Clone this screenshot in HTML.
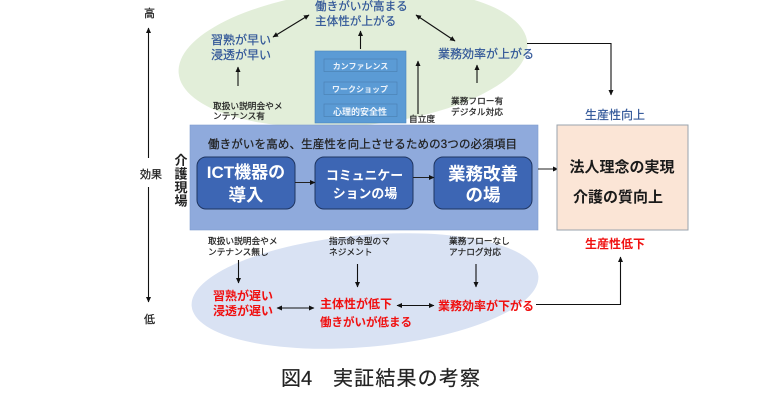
<!DOCTYPE html>
<html><head><meta charset="utf-8"><style>
html,body{margin:0;padding:0;background:#fff;width:760px;height:403px;overflow:hidden}
svg{display:block;filter:blur(0.35px)}
text{font-family:"Liberation Sans","Noto Sans CJK JP",sans-serif}
.b{fill:#2f5597;stroke:#2f5597;stroke-width:.2px;font-size:12px}
.r{fill:#f01010;font-size:12px;font-weight:700}
.s{fill:#222;stroke:#222;stroke-width:.2px;font-size:8.700px}
.k{fill:#222;stroke:#222;stroke-width:.25px;font-size:11px}
.w{fill:#fff;font-weight:700;text-anchor:middle}
.m{fill:#eef4fb;font-weight:700;text-anchor:middle}
</style></head><body>
<svg width="760" height="403" viewBox="0 0 760 403" xmlns="http://www.w3.org/2000/svg">
<defs>
<marker id="a" markerWidth="6" markerHeight="6" refX="5" refY="3" orient="auto-start-reverse" markerUnits="userSpaceOnUse"><path d="M0 0.5L5.5 3L0 5.5z" fill="#111"/></marker>
</defs>
<ellipse cx="353" cy="58" rx="175" ry="68" transform="rotate(-5 353 58)" fill="#e2eed9"/>
<ellipse cx="365" cy="291" rx="174" ry="56" transform="rotate(-5 365 291)" fill="#d9e2f3"/>

<!-- effect axis -->
<g stroke="#111" stroke-width="1.100" fill="none">
<path d="M148.500 158V28" marker-end="url(#a)"/>
<path d="M148.500 187V302" marker-end="url(#a)"/>
</g>
<text x="144" y="17" class="k">高</text>
<text x="140" y="178" class="k">効果</text>
<text x="144" y="323" class="k">低</text>

<!-- top group -->
<rect x="315" y="51" width="91" height="72" fill="#5b9bd5" stroke="#4a86bd" stroke-width="0.600"/>
<g fill="#5b9bd5" stroke="#4a7fb0" stroke-width="0.600">
<rect x="324" y="59" width="73" height="12.500"/>
<rect x="324" y="82" width="73" height="12.500"/>
<rect x="324" y="104" width="73" height="12.500"/>
</g>
<text x="360.500" y="69" class="m" style="font-size:8px">カンファレンス</text>
<text x="360" y="92" class="m" style="font-size:8px">ワークショップ</text>
<text x="360" y="115" class="m" style="font-size:9px">心理的安全性</text>

<text x="315" y="10" class="b" style="font-size:11.600px">働きがいが高まる</text>
<text x="315" y="25" class="b" style="font-size:11.600px">主体性が上がる</text>
<text x="211" y="44" class="b">習熟が早い</text>
<text x="211" y="59" class="b">浸透が早い</text>
<text x="438" y="58" class="b">業務効率が上がる</text>
<text x="585" y="119" class="b">生産性向上</text>

<text x="213" y="109" class="s">取扱い説明会やメ</text>
<text x="213" y="119" class="s">ンテナンス有</text>
<text x="409" y="122" class="s">自立度</text>
<text x="451" y="104" class="s">業務フロー有</text>
<text x="451" y="115" class="s">デジタル対応</text>

<g stroke="#111" stroke-width="1.100" fill="none">
<path d="M238 86V67" marker-end="url(#a)"/>
<path d="M360.500 49V31" marker-end="url(#a)"/>
<path d="M418 114V61" marker-end="url(#a)"/>
<path d="M477 83V65" marker-end="url(#a)"/>
<path d="M273 37L309 15" marker-start="url(#a)" marker-end="url(#a)"/>
<path d="M416 15L455 41" marker-start="url(#a)" marker-end="url(#a)"/>
<path d="M527 43.500H611V95" marker-end="url(#a)"/>
</g>

<!-- middle band -->
<rect x="190" y="125" width="348" height="105" fill="#8faadc" stroke="#7f9ccf" stroke-width="0.600"/>
<text x="208" y="148" fill="#222" stroke="#222" stroke-width=".25" style="font-size:11.500px" textLength="309">働きがいを高め、生産性を向上させるための3つの必須項目</text>
<g fill="#222" style="font-size:13px;font-weight:700" text-anchor="middle">
<text x="181" y="165">介</text><text x="181" y="178.500">護</text><text x="181" y="192">現</text><text x="181" y="205.500">場</text>
</g>
<g fill="#3d66b4" stroke="#1f3560" stroke-width="1">
<rect x="197" y="157" width="98" height="52" rx="9"/>
<rect x="315" y="157" width="98" height="52" rx="9"/>
<rect x="434" y="157" width="98" height="52" rx="9"/>
</g>
<text x="246" y="178" class="w" style="font-size:17px">ICT機器の</text>
<text x="246" y="201" class="w" style="font-size:17.500px">導入</text>
<text x="364.500" y="180" class="w" style="font-size:12.900px">コミュニケー</text>
<text x="365" y="198" class="w" style="font-size:12.900px">ションの場</text>
<text x="483" y="180" class="w" style="font-size:17.500px">業務改善</text>
<text x="483" y="201" class="w" style="font-size:17.500px">の場</text>
<g stroke="#222" stroke-width="1" fill="none">
<path d="M295 182.500H315" marker-end="url(#a)"/>
<path d="M413 177.500H434" marker-end="url(#a)"/>
<path d="M538 169H558" marker-end="url(#a)"/>
</g>

<!-- right box -->
<rect x="557" y="125" width="131" height="105" fill="#fbe5d6" stroke="#9aa3ad" stroke-width="1"/>
<text x="622" y="172" fill="#1a1a1a" text-anchor="middle" style="font-size:15px;font-weight:700">法人理念の実現</text>
<text x="618" y="202" fill="#1a1a1a" text-anchor="middle" style="font-size:15px;font-weight:700">介護の質向上</text>
<text x="585" y="248" class="r">生産性低下</text>

<!-- bottom group -->
<text x="208" y="244" class="s">取扱い説明会やメ</text>
<text x="208" y="255" class="s">ンテナンス無し</text>
<text x="329" y="244" class="s">指示命令型のマ</text>
<text x="329" y="255" class="s">ネジメント</text>
<text x="449" y="244" class="s">業務フローなし</text>
<text x="449" y="255" class="s">アナログ対応</text>
<text x="213" y="300" class="r">習熟が遅い</text>
<text x="213" y="315" class="r">浸透が遅い</text>
<text x="320" y="308" class="r">主体性が低下</text>
<text x="320" y="326" class="r" style="font-size:11.500px">働きがいが低まる</text>
<text x="438" y="310" class="r">業務効率が下がる</text>

<g stroke="#111" stroke-width="1.100" fill="none">
<path d="M238.500 260V283" marker-end="url(#a)"/>
<path d="M357.500 264V287" marker-end="url(#a)"/>
<path d="M476 264V287" marker-end="url(#a)"/>
<path d="M277 308H314" marker-start="url(#a)" marker-end="url(#a)"/>
<path d="M397 305.500H434" marker-start="url(#a)" marker-end="url(#a)"/>
<path d="M536 304.500H620.500V257" marker-end="url(#a)"/>
</g>

<!-- caption -->
<text x="281" y="385" fill="#222" stroke="#222" stroke-width=".2" style="font-size:20px">図4</text>
<text x="333" y="385" fill="#222" stroke="#222" stroke-width=".2" style="font-size:20px" textLength="147">実証結果の考察</text>
</svg>
</body></html>
